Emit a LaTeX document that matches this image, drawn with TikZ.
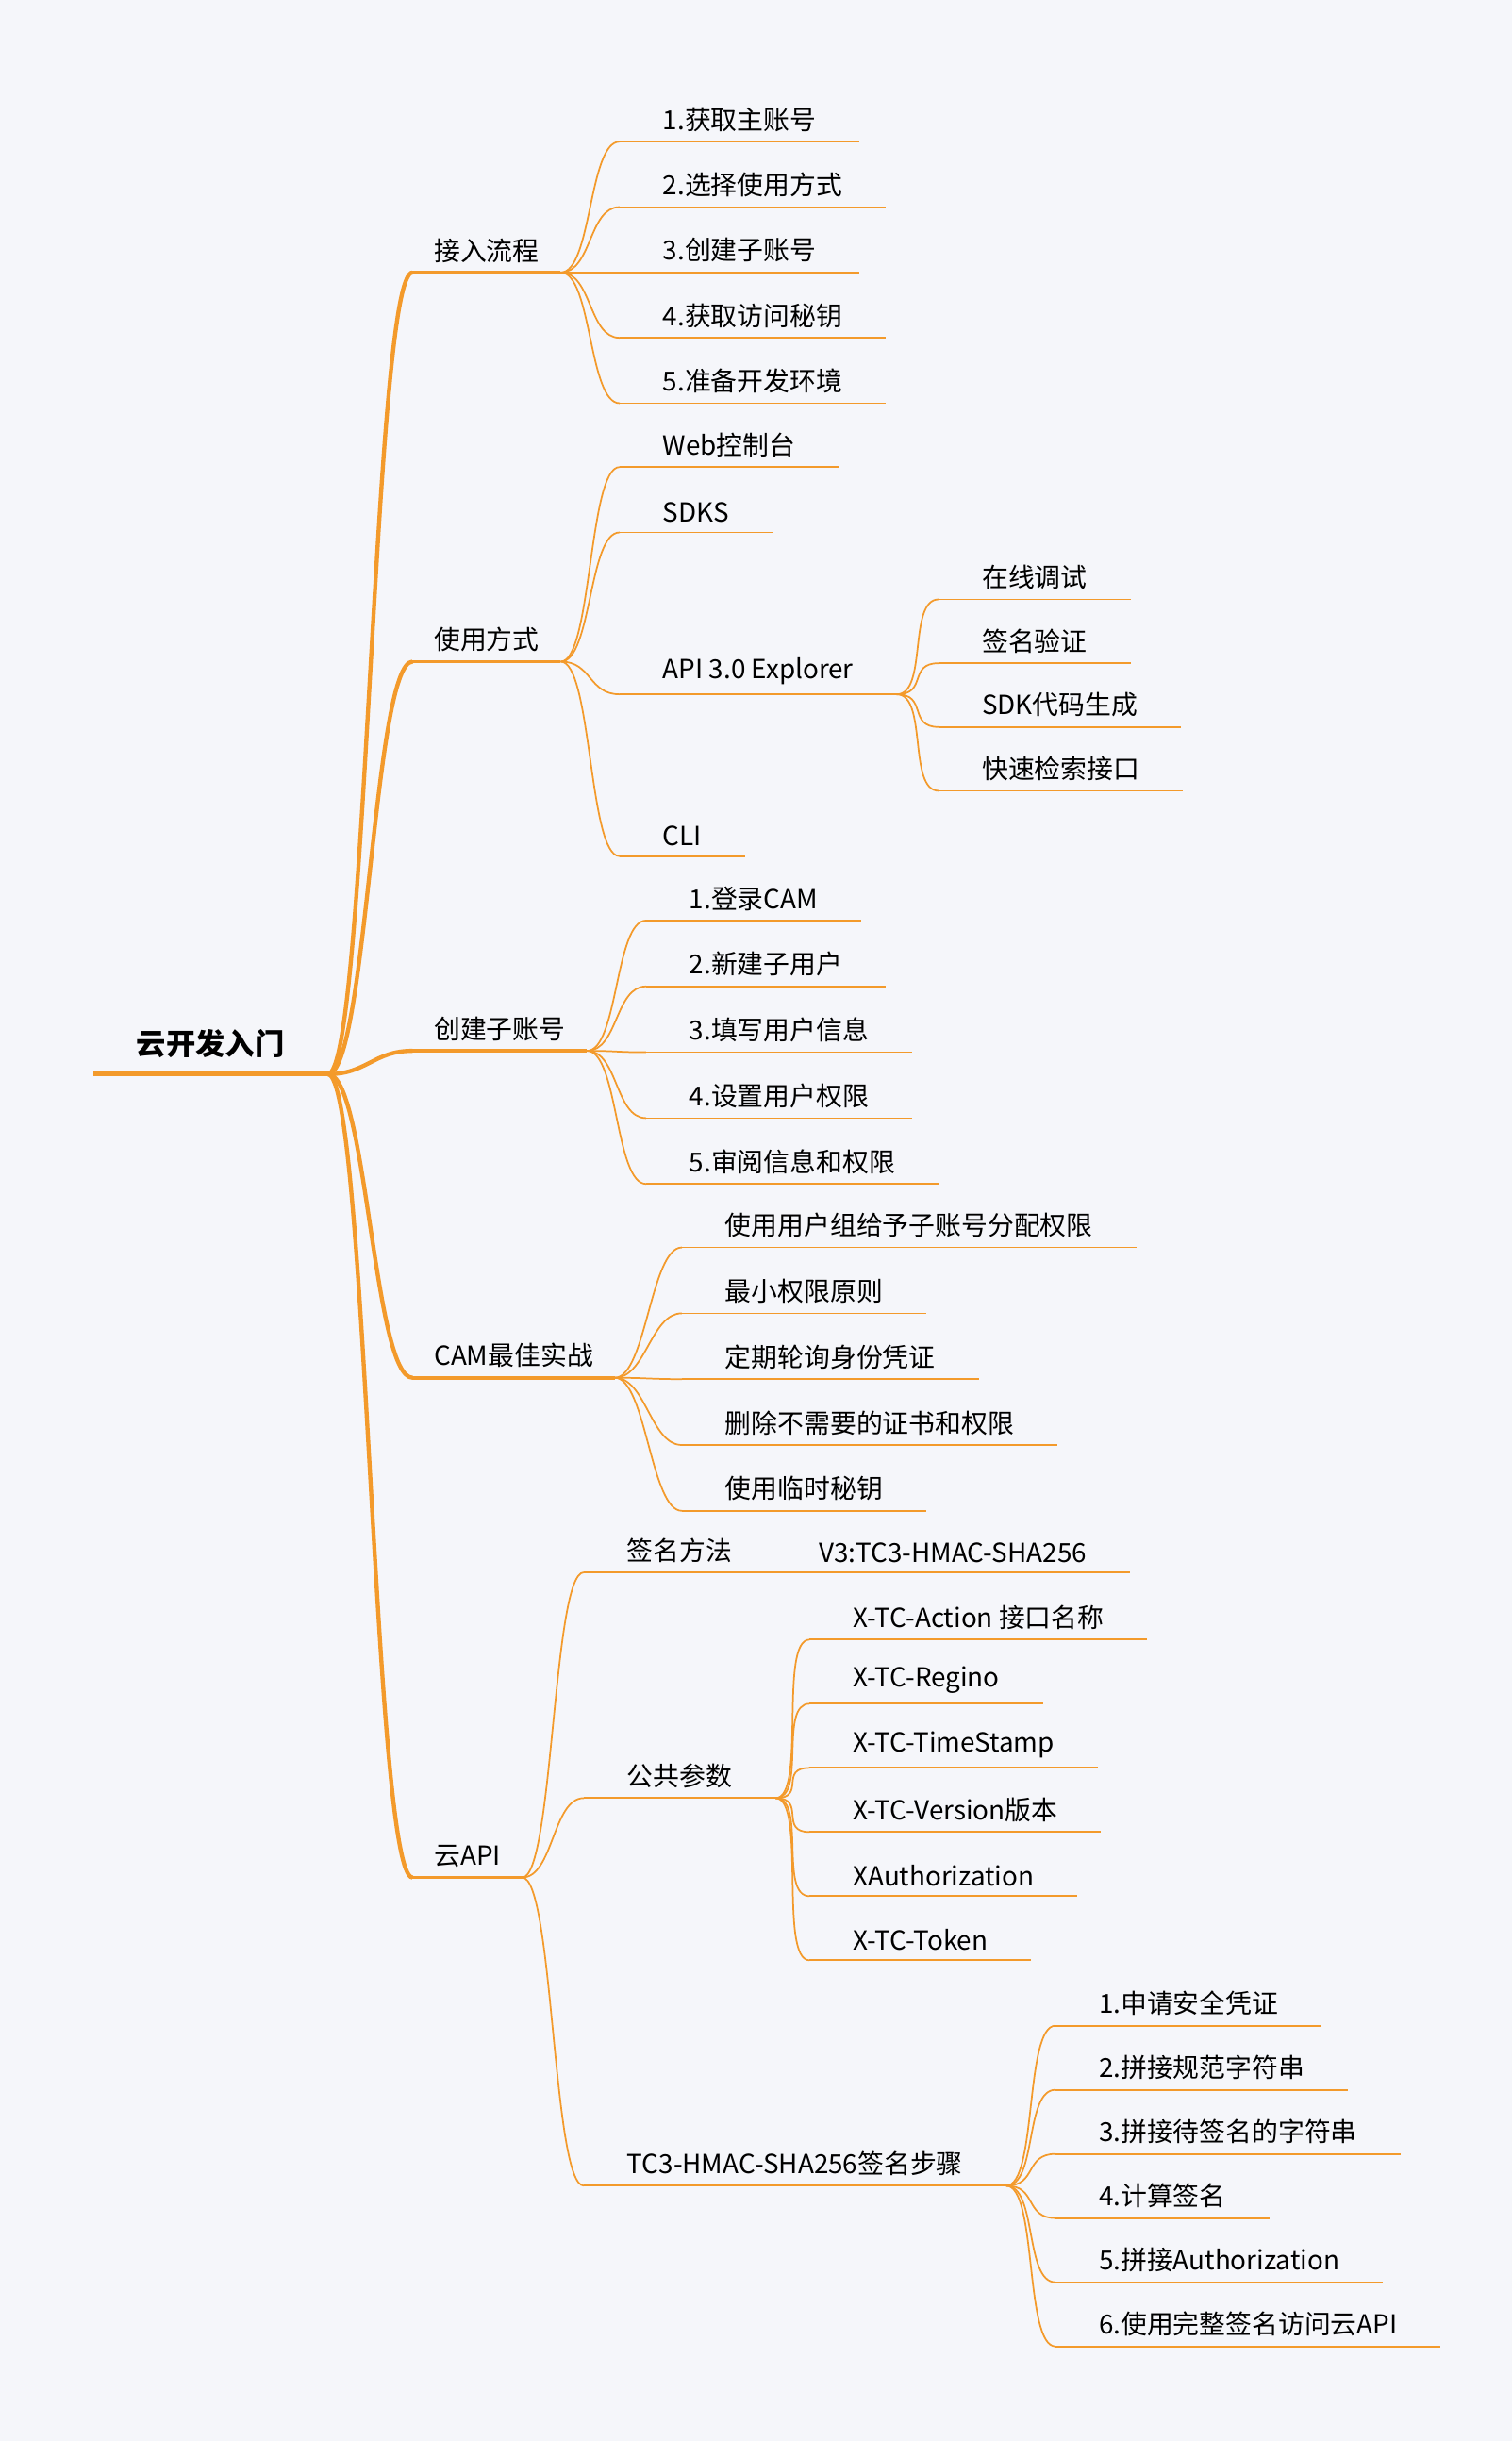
\documentclass[tikz,border=0pt]{standalone}
\usepackage{fontspec}
\setmainfont{Noto Sans CJK SC}
\definecolor{mmorange}{HTML}{F39A2B}
\definecolor{mmbg}{HTML}{F5F6FA}
\begin{document}
\begin{tikzpicture}[x=0.02cm,y=-0.02cm,
    topic/.style={anchor=south west,inner ysep=0.12cm,font=\fontsize{9.6}{11}\selectfont,
        append after command={(\tikzlastnode.south west) edge[draw=mmorange,line width=0.6pt] (\tikzlastnode.south east)}},
    leaf/.style={topic,inner xsep=0.55cm},
    main/.style={topic,inner xsep=0.27cm,
        append after command={(\tikzlastnode.south west) edge[draw=mmorange,line width=1.3pt] (\tikzlastnode.south east)}},
    root/.style={anchor=south west,inner xsep=0.55cm,inner ysep=0.2cm,font=\fontsize{10.8}{12}\selectfont\bfseries,
        append after command={(\tikzlastnode.south west) edge[draw=mmorange,line width=1.8pt] (\tikzlastnode.south east)}},
    link/.style={draw=mmorange,line width=0.6pt,to path={.. controls +(#1,0) and +(-#1,0) .. (\tikztotarget)}},
    link/.default=20]
\fill[mmbg] (0,0) rectangle (971,1568);
\useasboundingbox (0,0) rectangle (971,1568);

\node[root] (R) at (60,690) {云开发入门};
% main branches
\node[main] (A) at (265,175) {接入流程};
\node[main] (B) at (265,425) {使用方式};
\node[main] (C) at (265,675) {创建子账号};
\node[main] (D) at (265,885) {CAM最佳实战};
\node[main] (E) at (265,1206) {云API};
\foreach \m in {A,B,C,D,E}
    \path (R.south east) edge[link=25,line width=1.5pt] (\m.south west);

% 接入流程
\foreach \t [count=\i] in {1.获取主账号,2.选择使用方式,3.创建子账号,4.获取访问秘钥,5.准备开发环境} {
    \node[leaf] (A\i) at (398,49+42*\i) {\t};
    \path (A.south east) edge[link] (A\i.south west);
}

% 使用方式
\node[leaf] (B1) at (398,300) {Web控制台};
\node[leaf] (B2) at (398,342) {SDKS};
\node[leaf] (B3) at (398,446) {API 3.0 Explorer};
\node[leaf] (B4) at (398,550) {CLI};
\foreach \c in {B1,B2,B3,B4}
    \path (B.south east) edge[link] (\c.south west);
\foreach \t [count=\i] in {在线调试,签名验证,SDK代码生成,快速检索接口} {
    \node[leaf] (B3\i) at (603,344+41*\i) {\t};
    \path (B3.south east) edge[link] (B3\i.south west);
}

% 创建子账号
\foreach \t [count=\i] in {1.登录CAM,2.新建子用户,3.填写用户信息,4.设置用户权限,5.审阅信息和权限} {
    \node[leaf] (C\i) at (415,549+42.3*\i) {\t};
    \path (C.south east) edge[link] (C\i.south west);
}

% CAM最佳实战
\foreach \t [count=\i] in {使用用户组给予子账号分配权限,最小权限原则,定期轮询身份凭证,删除不需要的证书和权限,使用临时秘钥} {
    \node[leaf] (D\i) at (438,759+42.3*\i) {\t};
    \path (D.south east) edge[link] (D\i.south west);
}

% 云API
\node[leaf] (E1) at (375,1010) {签名方法};
\node[leaf] (E2) at (375,1155) {公共参数};
\node[leaf] (E3) at (375,1404) {TC3-HMAC-SHA256签名步骤};
\foreach \c in {E1,E2,E3}
    \path (E.south east) edge[link] (\c.south west);
\node[leaf,anchor=south west] (E11) at (E1.south east) {V3:TC3-HMAC-SHA256};
\foreach \t [count=\i] in {X-TC-Action 接口名称,X-TC-Regino,X-TC-TimeStamp,X-TC-Version版本,XAuthorization,X-TC-Token} {
    \node[leaf] (E2\i) at (520,1012+41.2*\i) {\t};
    \path (E2.south east) edge[link] (E2\i.south west);
}
\foreach \t [count=\i] in {1.申请安全凭证,2.拼接规范字符串,3.拼接待签名的字符串,4.计算签名,5.拼接Authorization,6.使用完整签名访问云API} {
    \node[leaf] (E3\i) at (678,1260+41.2*\i) {\t};
    \path (E3.south east) edge[link] (E3\i.south west);
}
\end{tikzpicture}
\end{document}
